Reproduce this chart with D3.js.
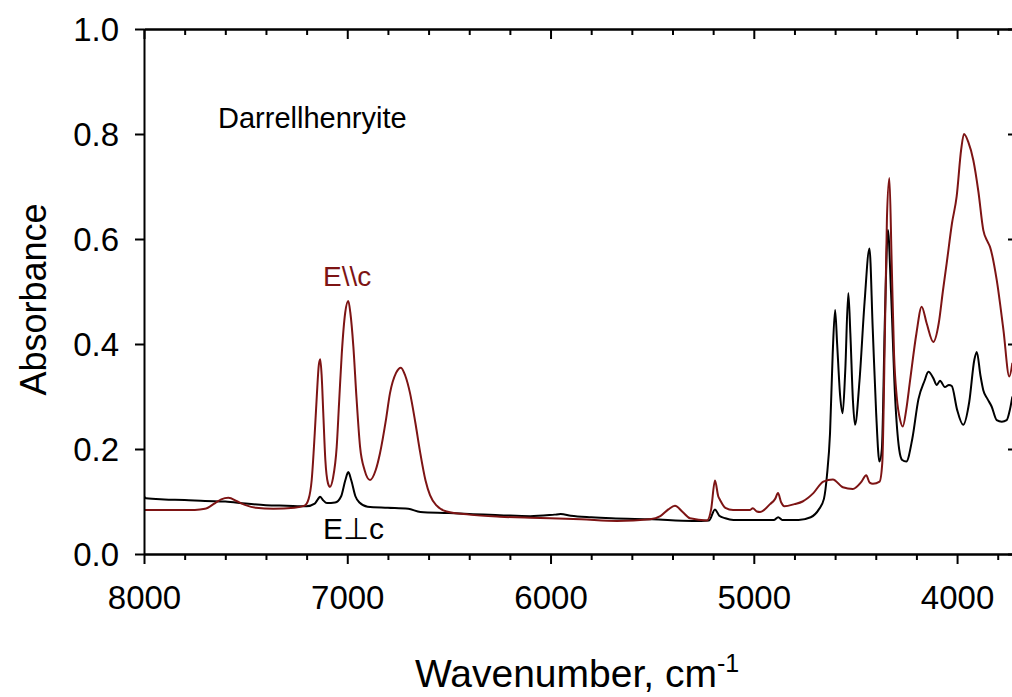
<!DOCTYPE html>
<html><head><meta charset="utf-8">
<script src="https://cdn.jsdelivr.net/npm/d3@7"></script>
<style>
html,body{margin:0;padding:0;background:#fff;}
svg{display:block;font-family:"Liberation Sans",Arial,sans-serif;}
</style></head>
<body>
<svg id="chart" width="1012" height="697"></svg>
<script>
// E⊥c (black) series
const perpWavenumber = [8000,7990,7900,7800,7700,7600,7500,7400,7300,7200,7160,7145,7134,7120,7100,7060,7030,7010,6995,6980,6960,6940,6900,6800,6700,6640,6500,6400,6250,6100,5980,5950,5900,5800,5700,5500,5300,5220,5191,5170,5140,5100,5000,4900,4880,4860,4780,4720,4680,4655,4640,4625,4612,4600,4590,4575,4563,4550,4535,4525,4512,4502,4480,4455,4431,4415,4398,4382,4370,4355,4340,4325,4305,4285,4270,4250,4220,4190,4160,4141,4117,4100,4084,4060,4040,4026,4000,3970,3940,3915,3903,3885,3871,3850,3830,3805,3780,3756,3740,3728];
const perpAbsorbance = [0.110,0.106,0.104,0.103,0.101,0.100,0.096,0.093,0.092,0.091,0.096,0.104,0.109,0.103,0.097,0.098,0.110,0.140,0.156,0.140,0.110,0.098,0.090,0.088,0.086,0.080,0.078,0.076,0.074,0.072,0.075,0.076,0.073,0.070,0.068,0.066,0.063,0.064,0.085,0.073,0.068,0.065,0.065,0.065,0.070,0.065,0.065,0.070,0.085,0.105,0.150,0.230,0.380,0.465,0.400,0.300,0.268,0.350,0.497,0.420,0.290,0.246,0.330,0.480,0.582,0.430,0.268,0.176,0.200,0.450,0.617,0.500,0.300,0.200,0.179,0.176,0.220,0.295,0.330,0.347,0.335,0.322,0.330,0.318,0.322,0.320,0.275,0.246,0.290,0.370,0.385,0.340,0.312,0.295,0.281,0.255,0.252,0.255,0.275,0.300];

// E||c (red) series
const paraWavenumber = [8000,7750,7700,7650,7620,7585,7540,7500,7450,7364,7260,7210,7190,7175,7160,7150,7140,7133,7126,7118,7108,7095,7085,7070,7052,7040,7027,7010,6995,6985,6970,6955,6937,6915,6888,6860,6839,6810,6790,6760,6736,6715,6691,6665,6642,6615,6593,6560,6511,6400,6249,6100,6002,5850,5673,5510,5460,5420,5388,5350,5314,5230,5210,5191,5175,5166,5140,5102,5050,5018,5005,4985,4969,4920,4895,4881,4865,4850,4800,4760,4707,4658,4611,4562,4513,4470,4447,4430,4414,4381,4368,4355,4345,4333,4322,4310,4297,4280,4267,4250,4231,4200,4174,4150,4117,4090,4070,4051,4025,4002,3980,3966,3945,3920,3895,3871,3850,3838,3805,3772,3743,3728];
const paraAbsorbance = [0.084,0.084,0.086,0.097,0.104,0.107,0.100,0.093,0.088,0.086,0.088,0.092,0.105,0.141,0.230,0.300,0.360,0.371,0.340,0.268,0.180,0.135,0.128,0.145,0.204,0.290,0.382,0.460,0.482,0.460,0.395,0.300,0.204,0.160,0.141,0.160,0.192,0.255,0.306,0.345,0.355,0.340,0.306,0.250,0.195,0.140,0.112,0.092,0.081,0.075,0.071,0.069,0.068,0.066,0.063,0.066,0.072,0.085,0.092,0.080,0.068,0.064,0.085,0.140,0.110,0.103,0.088,0.084,0.084,0.084,0.087,0.081,0.080,0.095,0.105,0.116,0.098,0.091,0.095,0.100,0.116,0.138,0.142,0.127,0.124,0.138,0.150,0.136,0.134,0.138,0.173,0.420,0.640,0.716,0.560,0.380,0.300,0.255,0.243,0.275,0.331,0.420,0.471,0.440,0.404,0.440,0.500,0.554,0.630,0.681,0.770,0.800,0.785,0.750,0.690,0.617,0.595,0.585,0.522,0.427,0.338,0.364];

const xMajorTicks = [8000,7000,6000,5000,4000];
const xMinorTicks = [7800,7600,7400,7200,6800,6600,6400,6200,5800,5600,5400,5200,4800,4600,4400,4200,3800];
const yTicks = [0.0,0.2,0.4,0.6,0.8,1.0];

const svg = d3.select("#chart");
const mLeft = 144, mRight = 1015, mTop = 29, mBottom = 554;
const x = d3.scaleLinear().domain([8000, 3715]).range([mLeft, mRight]);
const y = d3.scaleLinear().domain([0, 1]).range([mBottom, mTop]);
const red = "#7d1414";

svg.append("defs").append("clipPath").attr("id","clip")
  .append("rect").attr("x",mLeft).attr("y",mTop).attr("width",mRight-mLeft).attr("height",mBottom-mTop);

const line = d3.line().x(d=>x(d[0])).y(d=>y(d[1])).curve(d3.curveMonotoneX);
const perp = perpWavenumber.map((w,i)=>[w, perpAbsorbance[i]]);
const para = paraWavenumber.map((w,i)=>[w, paraAbsorbance[i]]);

const g = svg.append("g").attr("clip-path","url(#clip)");
g.append("path").datum(perp).attr("d",line).attr("fill","none").attr("stroke","#000").attr("stroke-width",2);
g.append("path").datum(para).attr("d",line).attr("fill","none").attr("stroke",red).attr("stroke-width",2);

// axes
const fmt = d3.format(".1f");
const axB = svg.append("g").attr("transform",`translate(0,${mBottom})`)
  .call(d3.axisBottom(x).tickValues(xMajorTicks).tickSize(10).tickSizeOuter(0).tickPadding(22).tickFormat(d3.format("d")));
const axBm = svg.append("g").attr("transform",`translate(0,${mBottom})`)
  .call(d3.axisBottom(x).tickValues(xMinorTicks).tickSize(6).tickSizeOuter(0).tickFormat(""));
const axT = svg.append("g").attr("transform",`translate(0,${mTop})`)
  .call(d3.axisBottom(x).tickValues(xMajorTicks).tickSize(10).tickSizeOuter(0).tickFormat(""));
const axTm = svg.append("g").attr("transform",`translate(0,${mTop})`)
  .call(d3.axisBottom(x).tickValues(xMinorTicks).tickSize(6).tickSizeOuter(0).tickFormat(""));
const axL = svg.append("g").attr("transform",`translate(${mLeft},0)`)
  .call(d3.axisLeft(y).tickValues(yTicks).tickSize(9).tickSizeOuter(0).tickPadding(16).tickFormat(fmt));
const axR = svg.append("g").attr("transform",`translate(${mRight},0)`)
  .call(d3.axisLeft(y).tickValues(yTicks).tickSize(7).tickSizeOuter(0).tickFormat(""));

[axB,axBm,axT,axTm,axL,axR].forEach(a=>{
  a.select(".domain").attr("stroke","#000").attr("stroke-width",2);
  a.selectAll(".tick line").attr("stroke","#000").attr("stroke-width",2);
  a.selectAll("text").attr("font-family","Liberation Sans, Arial, sans-serif").attr("fill","#000");
});
axB.selectAll("text").attr("font-size",33);
axL.selectAll("text").attr("font-size",33).attr("dy","0.35em");

// axis titles
svg.append("text").attr("transform",`translate(46,${(mTop+mBottom)/2+8}) rotate(-90)`)
  .attr("text-anchor","middle").attr("font-size",36).text("Absorbance");
const xt = svg.append("text").attr("x",577).attr("y",687).attr("text-anchor","middle").attr("font-size",39);
xt.append("tspan").text("Wavenumber, cm");
xt.append("tspan").attr("dy",-15).attr("font-size",25).text("-1");

// annotations
svg.append("text").attr("x",218).attr("y",128).attr("font-size",29).text("Darrellhenryite");
svg.append("text").attr("x",323).attr("y",286).attr("font-size",28).attr("fill",red).text("E\\\\c");
svg.append("text").attr("x",323).attr("y",539).attr("font-size",30).text("E\u22A5c");
</script>
</body></html>
